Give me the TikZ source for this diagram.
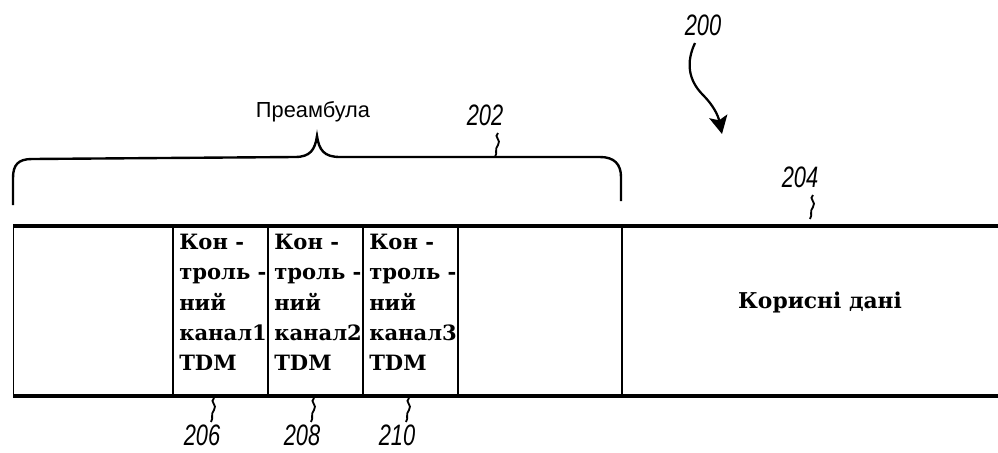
\documentclass[tikz,border=0pt]{standalone}
\usepackage{fontspec}
\setmainfont{DejaVu Serif}
\setsansfont{Liberation Sans}
\usepackage{tikz}
\usetikzlibrary{arrows.meta,calc}

\tikzset{
  frameline/.style={line width=2.2pt},
  divider/.style={line width=1.4pt},
  refnum/.style={font=\sffamily\itshape\fontsize{21}{21}\selectfont, xscale=0.74, inner sep=0},
  celltext/.style={font=\bfseries\fontsize{15}{21.5}\selectfont, align=left, anchor=north west, inner sep=0},
  squig/.style={line width=1.3pt}
}
% small wavy lead line from a number to the frame
\newcommand{\leadline}[1]{%
  \draw[squig] (#1) .. controls +(-5,4) and +(4,-5) .. ++(0,12) .. controls +(-4,5) and +(3,-5) .. ++(-3,12);}

\begin{document}
\begin{tikzpicture}[x=0.25mm, y=-0.25mm]
    \useasboundingbox (0,0) rectangle (998,452);

    % frame of the packet
    \draw[frameline] (13,226) -- (998,226);
    \draw[frameline] (13,396) -- (998,396);
    \draw[line width=0.6pt] (13,226) -- (13,396);
    \foreach \x in {173,268,363,458,622} {
        \draw[divider] (\x,226) -- (\x,396);
    }

    % control channels
    \node[celltext] (ch1) at (179,234) {Кон -\\троль -\\ний\\канал1\\TDM};
    \node[celltext] (ch2) at (274,234) {Кон -\\троль -\\ний\\канал2\\TDM};
    \node[celltext] (ch3) at (369,234) {Кон -\\троль -\\ний\\канал3\\TDM};
    \node[font=\bfseries\fontsize{15.5}{16}\selectfont] (payload) at (820,302) {Корисні дані};

    % brace over the preamble
    \draw[line width=1.7pt] (13,205) -- (13,178) .. controls (13,165) and (18,159) .. (32,159)
        -- (295,157) .. controls (310,157) and (315,150) .. (317,136)
        .. controls (319,150) and (324,157) .. (340,157)
        -- (600,157) .. controls (614,157) and (621,164) .. (621,177) -- (621,201);
    \node[font=\sffamily\fontsize{15.5}{16}\selectfont] (pre) at (313,112) {Преамбула};

    % reference numbers
    \node[refnum] (n200) at (703,25) {200};
    \node[refnum] (n202) at (485,115) {202};
    \node[refnum] (n204) at (800,177) {204};
    \node[refnum] (n206) at (202,435) {206};
    \node[refnum] (n208) at (302,435) {208};
    \node[refnum] (n210) at (397,435) {210};

    \coordinate (t202) at (498,133);
    \coordinate (t204) at (813,195);
    \coordinate (t206) at (214,398);
    \coordinate (t208) at (314,398);
    \coordinate (t210) at (409,398);
    \leadline{t202}
    \leadline{t204}
    \leadline{t206}
    \leadline{t208}
    \leadline{t210}

    \draw[line width=1.6pt, -{Stealth[length=4.5mm, width=4.6mm, inset=1mm]}]
        (695,43) .. controls (686,62) and (688,80) .. (703,95)
        .. controls (713,105) and (718,115) .. (722,134);
\end{tikzpicture}
\end{document}
